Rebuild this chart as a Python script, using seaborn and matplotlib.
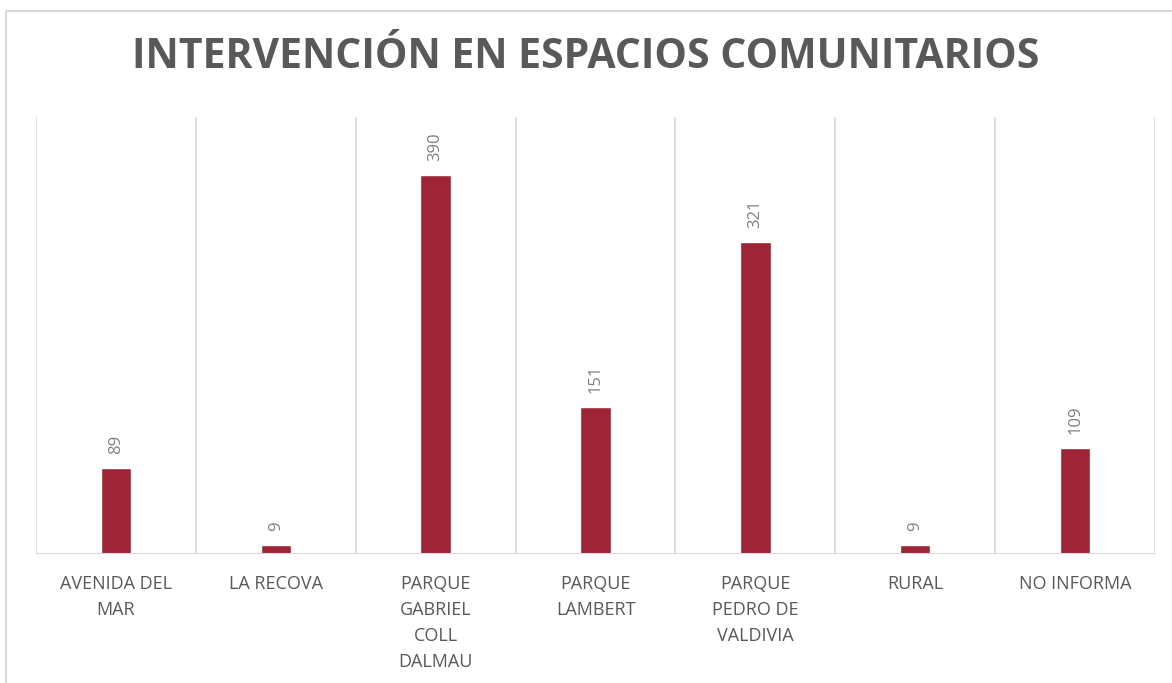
import matplotlib
matplotlib.use("Agg")
import matplotlib.pyplot as plt
import seaborn as sns
import pandas as pd
from matplotlib.patches import Rectangle

categories = ["Avenida del Mar", "La Recova", "Parque Gabriel Coll Dalmau",
              "Parque Lambert", "Parque Pedro de Valdivia", "Rural", "No informa"]
tick_labels = ["AVENIDA DEL\nMAR", "LA RECOVA", "PARQUE\nGABRIEL\nCOLL\nDALMAU",
               "PARQUE\nLAMBERT", "PARQUE\nPEDRO DE\nVALDIVIA", "RURAL", "NO INFORMA"]
values = [89, 9, 390, 151, 321, 9, 109]

df = pd.DataFrame({"espacio": categories, "n": values})

sns.set_theme(style="white")
plt.rcParams['font.family'] = ['Open Sans', 'DejaVu Sans']

BAR = "#9E2536"
GRID = "#d9d9d9"
TXT = "#595959"

fig = plt.figure(figsize=(11.72, 6.83), dpi=100)
ax = fig.add_axes([36 / 1172, 1 - 554 / 683, (1155 - 36) / 1172, (554 - 117) / 683])

sns.barplot(data=df, x="espacio", y="n", color=BAR, width=0.19, ax=ax, saturation=1)

ax.set_ylim(0, 450)
ax.set_xlim(-0.5, len(categories) - 0.5)
for b in [i - 0.5 for i in range(len(categories) + 1)]:
    ax.axvline(b, color=GRID, lw=1.2, zorder=0)
for s in ax.spines.values():
    s.set_visible(False)
ax.axhline(0, color=GRID, lw=1.5, zorder=3)

ax.set_yticks([])
ax.set_xticks(range(len(categories)))
ax.set_xticklabels(tick_labels, fontsize=13, color=TXT, linespacing=1.57)
ax.tick_params(axis="x", length=0, pad=15)
ax.set_xlabel("")
ax.set_ylabel("")

for i, v in enumerate(values):
    ax.annotate(str(v), (i, v), xytext=(0, 10), textcoords="offset points",
                rotation=90, ha="center", va="bottom", fontsize=12, color="#7f7f7f")

fig.text(0.5, 1 - 58 / 683, "INTERVENCIÓN EN ESPACIOS COMUNITARIOS",
         ha="center", va="center", fontsize=29.5, fontweight="bold", color=TXT)

fig.patches.append(Rectangle((6 / 1172, -0.05), 1.2, 1 - 11 / 683 + 0.05,
                             transform=fig.transFigure, fill=False,
                             edgecolor=GRID, lw=1.5))

fig.savefig("out.png", dpi=100)
plt.close(fig)
